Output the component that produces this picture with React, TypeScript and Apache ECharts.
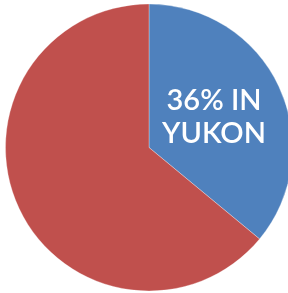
import React, { useEffect, useRef } from "react";
import * as echarts from "echarts";

const categories = ["Yukon", "Elsewhere"];
const values = [36, 64];
const colors = ["#4F81BD", "#C0504D"];
const labelLines = ["36% IN", "YUKON"];

export default function App() {
  const ref = useRef<HTMLDivElement>(null);
  useEffect(() => {
    if (!ref.current) return;
    const chart = echarts.init(ref.current, undefined, { renderer: "svg" });
    chart.setOption({
      animation: false,
      series: [
        {
          type: "pie",
          center: [149, 147.5],
          radius: 143.5,
          startAngle: 90,
          clockwise: true,
          label: { show: false },
          labelLine: { show: false },
          emphasis: { disabled: true },
          itemStyle: { borderWidth: 0.5, borderColor: "rgba(255,255,255,0.6)" },
          data: categories.map((c, i) => ({
            name: c,
            value: values[i],
            itemStyle: { color: colors[i] },
          })),
        },
      ],
      graphic: labelLines.map((t, i) => ({
        type: "text",
        z: 100,
        x: 214,
        y: 98 + i * 33,
        style: {
          text: t,
          fill: "#ffffff",
          font: "600 29px Lato, sans-serif",
          textAlign: "center",
          textVerticalAlign: "middle",
        },
      })),
    });
    return () => chart.dispose();
  }, []);
  return (
    <div
      ref={ref}
      style={{ position: "fixed", left: 0, top: 0, width: 288, height: 293 }}
    />
  );
}
